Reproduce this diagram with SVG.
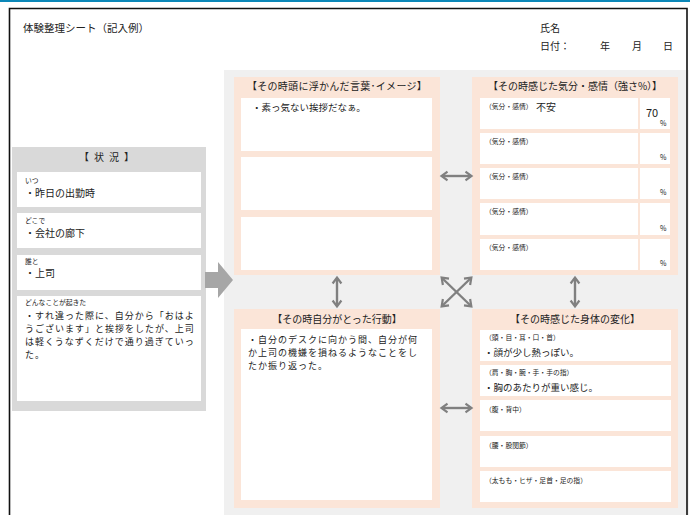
<svg xmlns="http://www.w3.org/2000/svg" width="690" height="515" viewBox="0 0 690 515">
<style>
text{font-family:"Noto Sans CJK JP","Noto Sans",sans-serif;fill:#222}
.t10{font-size:10px}
.t9{font-size:9px;letter-spacing:1px}
.t95{font-size:9.5px}
.t7{font-size:6.8px}
.ttl{font-size:10px;text-anchor:middle}
.peach{fill:#fbe5d8}
.wh{fill:#fff}
.arr{fill:none;stroke:#808080;stroke-width:2.4;marker-start:url(#chev);marker-end:url(#chev)}
</style>
<defs>
<marker id="chev" viewBox="0 0 8 10" refX="6.5" refY="5" markerWidth="8" markerHeight="10" markerUnits="userSpaceOnUse" orient="auto-start-reverse" overflow="visible">
<path d="M1,0.6 L7,5 L1,9.4" fill="none" stroke="#808080" stroke-width="2.2"/>
</marker>
</defs>
<rect x="0" y="0" width="690" height="515" fill="#fff"/>
<rect x="0" y="0" width="690" height="2" fill="#0b87b8"/>
<rect x="224" y="70" width="465" height="450" fill="#f0f0f0"/>
<path d="M9.5,520 V8.5 H687 V520" fill="none" stroke="#111" stroke-width="1.6"/>

<g id="header">
<text class="t10" x="23" y="32" style="font-size:10.5px">体験整理シート（記入例）</text>
<text class="t10" x="540" y="32">氏名</text>
<text class="t10" x="540" y="50">日付：</text>
<text class="t10" x="600" y="50">年</text>
<text class="t10" x="632" y="50">月</text>
<text class="t10" x="663" y="50">日</text>
</g>

<g id="situation">
<rect x="12" y="147" width="194" height="264" fill="#d9d9d9"/>
<text class="ttl" x="109" y="161" letter-spacing="5">【状況】</text>
<rect class="wh" x="17" y="172" width="184" height="35"/>
<rect class="wh" x="17" y="213" width="184" height="35"/>
<rect class="wh" x="17" y="255" width="184" height="35"/>
<rect class="wh" x="17" y="296" width="184" height="105"/>
<text class="t7" x="25" y="182.5">いつ</text>
<text class="t10" x="25" y="196.5">・昨日の出勤時</text>
<text class="t7" x="25" y="222.5">どこで</text>
<text class="t10" x="25" y="236.5">・会社の廊下</text>
<text class="t7" x="25" y="263.5">誰と</text>
<text class="t10" x="25" y="276.5">・上司</text>
<text class="t7" x="25" y="305">どんなことが起きた</text>
<text class="t9" x="25" y="318.5"><tspan x="25">・すれ違った際に、自分から「おはよ</tspan><tspan x="25" dy="13">うございます」と挨拶をしたが、上司</tspan><tspan x="25" dy="13">は軽くうなずくだけで通り過ぎていっ</tspan><tspan x="25" dy="13">た。</tspan></text>
</g>

<g id="words">
<rect class="peach" x="234" y="77" width="206" height="198"/>
<text class="ttl" x="337" y="90" letter-spacing="0.3">【その時頭に浮かんだ言葉･イメージ】</text>
<rect class="wh" x="241" y="98" width="191" height="53"/>
<rect class="wh" x="241" y="157" width="191" height="53"/>
<rect class="wh" x="241" y="217" width="191" height="53"/>
<text class="t95" x="252" y="111">・素っ気ない挨拶だなぁ。</text>
</g>

<g id="feelings">
<rect class="peach" x="472" y="77" width="206" height="198"/>
<text class="ttl" x="575" y="90">【その時感じた気分・感情（強さ%）】</text>
<rect class="wh" x="480" y="98" width="158" height="31"/>
<rect class="wh" x="640" y="98" width="30" height="31"/>
<rect class="wh" x="480" y="133" width="158" height="31"/>
<rect class="wh" x="640" y="133" width="30" height="31"/>
<rect class="wh" x="480" y="168" width="158" height="31"/>
<rect class="wh" x="640" y="168" width="30" height="31"/>
<rect class="wh" x="480" y="203" width="158" height="32"/>
<rect class="wh" x="640" y="203" width="30" height="32"/>
<rect class="wh" x="480" y="239" width="158" height="31"/>
<rect class="wh" x="640" y="239" width="30" height="31"/>
<text class="t7" x="485" y="109">（気分・感情）</text>
<text class="t10" x="536" y="111">不安</text>
<text x="646" y="117" style="font-size:11px">70</text>
<text x="660" y="126" style="font-size:7px">%</text>
<text class="t7" x="485" y="144">（気分・感情）</text>
<text x="660" y="160" style="font-size:7px">%</text>
<text class="t7" x="485" y="179">（気分・感情）</text>
<text x="660" y="195" style="font-size:7px">%</text>
<text class="t7" x="485" y="214">（気分・感情）</text>
<text x="660" y="231" style="font-size:7px">%</text>
<text class="t7" x="485" y="250">（気分・感情）</text>
<text x="660" y="266" style="font-size:7px">%</text>
</g>

<g id="action">
<rect class="peach" x="234" y="309" width="206" height="199"/>
<text class="ttl" x="337" y="323">【その時自分がとった行動】</text>
<rect class="wh" x="241" y="329" width="191" height="171"/>
<text class="t9" x="248" y="342.5"><tspan x="248">・自分のデスクに向かう間、自分が何</tspan><tspan x="248" dy="13">か上司の機嫌を損ねるようなことをし</tspan><tspan x="248" dy="13">たか振り返った。</tspan></text>
</g>

<g id="body">
<rect class="peach" x="472" y="309" width="206" height="199"/>
<text class="ttl" x="575" y="323">【その時感じた身体の変化】</text>
<rect class="wh" x="480" y="330" width="191" height="31"/>
<rect class="wh" x="480" y="365" width="191" height="31"/>
<rect class="wh" x="480" y="400" width="191" height="31"/>
<rect class="wh" x="480" y="436" width="191" height="31"/>
<rect class="wh" x="480" y="471" width="191" height="31"/>
<text class="t7" x="485" y="339.5">（頭・目・耳・口・首）</text>
<text class="t95" x="484" y="355.5">・顔が少し熱っぽい。</text>
<text class="t7" x="485" y="374.5">（肩・胸・腕・手・手の指）</text>
<text class="t95" x="484" y="390.5">・胸のあたりが重い感じ。</text>
<text class="t7" x="485" y="411.5">（腹・背中）</text>
<text class="t7" x="485" y="447.5">（腰・股関節）</text>
<text class="t7" x="485" y="482.5">（太もも・ヒザ・足首・足の指）</text>
</g>

<g id="connectors">
<polygon points="205,272 218,272 218,262 233,280 218,298 218,288 205,288" fill="#a6a6a6"/>
<line class="arr" x1="442" y1="176" x2="471" y2="176"/>
<line class="arr" x1="442" y1="408" x2="471" y2="408"/>
<line class="arr" x1="337" y1="278" x2="337" y2="306"/>
<line class="arr" x1="575" y1="278" x2="575" y2="306"/>
<line class="arr" x1="442" y1="278" x2="471" y2="306"/>
<line class="arr" x1="471" y1="278" x2="442" y2="306"/>
</g>
</svg>
